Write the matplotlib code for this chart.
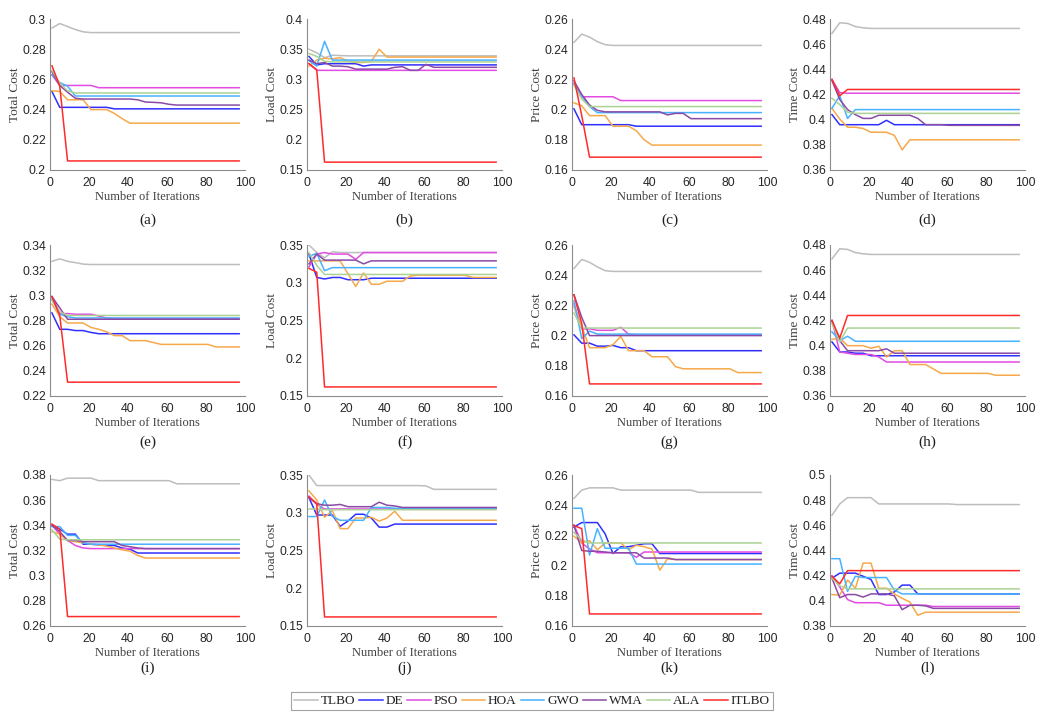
import numpy as np
import matplotlib.pyplot as plt
from matplotlib.ticker import FuncFormatter

iters = list(range(1, 98, 4))  # 1, 5, 9, ..., 97
names = ['TLBO', 'DE', 'PSO', 'HOA', 'GWO', 'WMA', 'ALA', 'ITLBO']
colors = ['#bdbdbd', '#2f2fff', '#e24ce2', '#f6a94a', '#47b2ff', '#8a4aa6', '#abd293', '#ff2b2b']

# (a) Total Cost
a_tlbo = [0.294, 0.297, 0.295, 0.293, 0.2915] + [0.291] * 20
a_de = [0.252, 0.2415, 0.2415, 0.2415, 0.2415, 0.2415, 0.2415, 0.2415] + [0.2405] * 17
a_pso = [0.263, 0.256, 0.256, 0.256, 0.256, 0.256] + [0.2545] * 19
a_hoa = [0.2525, 0.252, 0.2465, 0.2465, 0.2465, 0.240, 0.240, 0.240, 0.2375, 0.234] + [0.231] * 15
a_gwo = [0.263, 0.258, 0.2555] + [0.249] * 22
a_wma = [0.265, 0.256, 0.2515, 0.2475, 0.247, 0.247, 0.247, 0.247, 0.247, 0.247, 0.247,
         0.2465, 0.245, 0.2448, 0.2445, 0.2435] + [0.243] * 9
a_ala = [0.266, 0.2575, 0.2525] + [0.251] * 22
a_itlbo = [0.269, 0.2556] + [0.206] * 23

# (b) Load Cost
b_tlbo = [0.350, 0.344, 0.336, 0.340, 0.3395] + [0.339] * 20
b_de = [0.338, 0.324, 0.326, 0.326, 0.326, 0.326, 0.326, 0.322] + [0.324] * 17
b_pso = [0.326] + [0.315] * 24
b_hoa = [0.322, 0.332, 0.335, 0.334, 0.336, 0.330, 0.328, 0.328, 0.330, 0.350] + [0.337] * 15
b_gwo = [0.331, 0.322, 0.363] + [0.332] * 22
b_wma = [0.332, 0.326, 0.328, 0.322, 0.322, 0.321, 0.317, 0.317, 0.317, 0.317, 0.317,
         0.320, 0.321, 0.315, 0.315, 0.325] + [0.320] * 9
b_ala = [0.343, 0.338, 0.330] + [0.329] * 22
b_itlbo = [0.326, 0.316] + [0.163] * 23

# (c) Price Cost
c_tlbo = [0.2445, 0.250, 0.248, 0.245, 0.243] + [0.2425] * 20
c_de = [0.2005, 0.190, 0.190, 0.190, 0.190, 0.190, 0.190, 0.190] + [0.189] * 17
c_pso = [0.2175, 0.2085, 0.2085, 0.2085, 0.2085, 0.2085] + [0.206] * 19
c_hoa = [0.2045, 0.2025, 0.196, 0.196, 0.196, 0.189, 0.189, 0.189, 0.186, 0.180] + [0.1765] * 15
c_gwo = [0.217, 0.209, 0.202] + [0.198] * 22
c_wma = [0.219, 0.210, 0.203, 0.1995] + [0.1985] * 8 + [0.1965, 0.1975, 0.1975] + [0.194] * 10
c_ala = [0.216, 0.207] + [0.202] * 23
c_itlbo = [0.221, 0.196] + [0.1685] * 23

# (d) Time Cost
d_tlbo = [0.4685, 0.477, 0.4765, 0.474, 0.473] + [0.4725] * 20
d_de = [0.404] + [0.396] * 6 + [0.3995] + [0.396] * 17
d_pso = [0.432, 0.4215] + [0.421] * 23
d_hoa = [0.409, 0.4005, 0.394, 0.394, 0.393, 0.390, 0.390, 0.390, 0.3875, 0.376] + [0.384] * 15
d_gwo = [0.409, 0.419, 0.401] + [0.408] * 22
d_wma = [0.431, 0.416, 0.408, 0.404, 0.401, 0.401] + [0.4035] * 5 + [0.401] + [0.396] * 3 + [0.3955] * 10
d_ala = [0.417, 0.412, 0.406] + [0.405] * 22
d_itlbo = [0.432, 0.419] + [0.424] * 23

# (e) Total Cost
e_tlbo = [0.327, 0.329, 0.327, 0.326, 0.3248] + [0.3245] * 20
e_de = [0.286, 0.273, 0.273, 0.272, 0.272, 0.2705] + [0.2695] * 19
e_pso = [0.299, 0.2855, 0.2855, 0.285, 0.285, 0.285, 0.2835, 0.282] + [0.2815] * 17
e_hoa = [0.293, 0.283, 0.278, 0.278, 0.278, 0.2745, 0.273, 0.271, 0.268, 0.268, 0.264, 0.264,
         0.264, 0.2625] + [0.261] * 7 + [0.259] * 4
e_gwo = [0.297, 0.285, 0.283] + [0.282] * 22
e_wma = [0.299, 0.290] + [0.281] * 23
e_ala = [0.296, 0.287] + [0.284] * 23
e_itlbo = [0.299, 0.284] + [0.231] * 23

# (f) Load Cost
f_tlbo = [0.350, 0.340, 0.333, 0.341] + [0.340] * 21
f_de = [0.338, 0.307, 0.305, 0.307, 0.307, 0.304, 0.304, 0.304] + [0.306] * 17
f_pso = [0.321, 0.338, 0.340, 0.338, 0.338, 0.338, 0.331] + [0.340] * 18
f_hoa = [0.329, 0.329, 0.329, 0.329, 0.329, 0.312, 0.295, 0.313, 0.298, 0.298, 0.302, 0.302,
         0.302, 0.309] + [0.310] * 7 + [0.307] * 4
f_gwo = [0.335, 0.339, 0.316] + [0.320] * 22
f_wma = [0.325, 0.338, 0.330, 0.330, 0.330, 0.330, 0.330, 0.325] + [0.329] * 17
f_ala = [0.340, 0.323] + [0.311] * 23
f_itlbo = [0.319, 0.314] + [0.162] * 23

# (g) Price Cost
g_tlbo = [0.2445, 0.2505, 0.2485, 0.2455, 0.243] + [0.2425] * 20
g_de = [0.2005, 0.195, 0.195, 0.193, 0.193, 0.1935, 0.192, 0.192] + [0.190] * 17
g_pso = [0.221, 0.2045, 0.2045, 0.2035, 0.2035, 0.2035, 0.2055, 0.201] + [0.2005] * 17
g_hoa = [0.219, 0.206, 0.192, 0.192, 0.192, 0.194, 0.1995, 0.190, 0.190, 0.190, 0.186, 0.186,
         0.186, 0.1795] + [0.178] * 7 + [0.1755] * 4
g_gwo = [0.223, 0.198, 0.203] + [0.201] * 22
g_wma = [0.227, 0.212] + [0.200] * 23
g_ala = [0.215] + [0.205] * 24
g_itlbo = [0.227, 0.208] + [0.168] * 23

# (h) Time Cost
h_tlbo = [0.469, 0.477, 0.4765, 0.474, 0.473] + [0.4725] * 20
h_de = [0.403, 0.395, 0.395, 0.394, 0.394] + [0.392] * 20
h_pso = [0.420, 0.395, 0.394, 0.393, 0.393, 0.393, 0.391] + [0.387] * 18
h_hoa = [0.405, 0.406, 0.400, 0.400, 0.400, 0.398, 0.3995, 0.391, 0.396, 0.396, 0.385, 0.385,
         0.385, 0.3815] + [0.378] * 7 + [0.3765] * 4
h_gwo = [0.411, 0.404, 0.4075] + [0.4035] * 22
h_wma = [0.420, 0.404, 0.396, 0.396, 0.396, 0.396, 0.396, 0.3975] + [0.394] * 17
h_ala = [0.418, 0.403] + [0.414] * 23
h_itlbo = [0.420, 0.406] + [0.424] * 23

# (i) Total Cost
i_tlbo = [0.3765, 0.3755, 0.3775, 0.3775, 0.3775, 0.3775] + [0.3755] * 10 + [0.373] * 9
i_de = [0.340, 0.337, 0.333, 0.333, 0.325, 0.325, 0.3245, 0.324, 0.324, 0.322, 0.321] + [0.318] * 14
i_pso = [0.340, 0.333, 0.328, 0.324, 0.322] + [0.3215] * 20
i_hoa = [0.335, 0.333, 0.328, 0.327, 0.326, 0.325, 0.3245, 0.3235, 0.322, 0.3205, 0.3195,
         0.316] + [0.314] * 13
i_gwo = [0.339, 0.339, 0.332, 0.332, 0.326] + [0.325] * 20
i_wma = [0.340, 0.335, 0.328, 0.328, 0.327, 0.327, 0.327, 0.327, 0.327, 0.324, 0.323,
         0.322] + [0.3215] * 13
i_ala = [0.3365, 0.329] + [0.3285] * 23
i_itlbo = [0.341, 0.337] + [0.2675] * 23

# (j) Load Cost
j_tlbo = [0.350] + [0.336] * 14 + [0.3355] + [0.331] * 9
j_de = [0.320, 0.297, 0.297, 0.297, 0.282, 0.289, 0.298, 0.298, 0.293, 0.281, 0.281] + [0.285] * 14
j_pso = [0.322, 0.311] + [0.305] * 23
j_hoa = [0.329, 0.317, 0.294, 0.303, 0.279, 0.279, 0.293, 0.293, 0.294, 0.289, 0.293,
         0.302] + [0.290] * 13
j_gwo = [0.295, 0.295, 0.317, 0.295, 0.290, 0.290, 0.290, 0.290, 0.307, 0.307, 0.307] + [0.306] * 14
j_wma = [0.320, 0.312, 0.310, 0.310, 0.311, 0.308, 0.308, 0.308, 0.308, 0.314, 0.310,
         0.309] + [0.307] * 13
j_ala = [0.305, 0.305] + [0.304] * 23
j_itlbo = [0.321, 0.312] + [0.162] * 23

# (k) Price Cost
k_tlbo = [0.2445, 0.250] + [0.2515] * 4 + [0.250] * 10 + [0.2485] * 9
k_de = [0.2255, 0.2285, 0.2285, 0.2285, 0.221, 0.208, 0.2125, 0.2125, 0.2135, 0.2145,
        0.2145] + [0.208] * 14
k_pso = [0.227, 0.215, 0.211, 0.2085, 0.2085, 0.2085, 0.2085, 0.2085, 0.2055] + [0.209] * 16
k_hoa = [0.2195, 0.215, 0.2165, 0.2105, 0.215, 0.215, 0.215, 0.2105, 0.2135, 0.2125, 0.211,
         0.197, 0.2045] + [0.204] * 12
k_gwo = [0.238, 0.238, 0.207, 0.2245, 0.2115, 0.2115, 0.2115, 0.2115] + [0.201] * 17
k_wma = [0.2265, 0.210, 0.2095, 0.2095, 0.209, 0.2085, 0.2085, 0.2085, 0.2085] + [0.205] * 4 + [0.204] * 12
k_ala = [0.222, 0.217] + [0.215] * 23
k_itlbo = [0.2265, 0.2245] + [0.168] * 23

# (l) Time Cost
l_tlbo = [0.468, 0.477, 0.482, 0.482, 0.482, 0.482] + [0.477] * 10 + [0.4765] * 9
l_de = [0.418, 0.422, 0.422, 0.422, 0.4195, 0.417, 0.405, 0.405, 0.407, 0.4125, 0.4125] + [0.4055] * 14
l_pso = [0.420, 0.411, 0.401, 0.3985, 0.3985, 0.3985, 0.3985] + [0.3965] * 6 + [0.3955] * 12
l_hoa = [0.405, 0.4045, 0.4165, 0.410, 0.430, 0.430, 0.410, 0.410, 0.4055, 0.402, 0.399,
         0.3885] + [0.391] * 13
l_gwo = [0.4335, 0.4335, 0.4075, 0.4195, 0.4185, 0.4185, 0.4185, 0.4185, 0.4085] + [0.4055] * 16
l_wma = [0.418, 0.4025, 0.405, 0.405, 0.403, 0.4055, 0.4055, 0.4055, 0.404, 0.393, 0.3965,
         0.3965, 0.396] + [0.394] * 12
l_ala = [0.418, 0.412] + [0.4095] * 23
l_itlbo = [0.4195, 0.4135] + [0.424] * 23

panels = [
    ('(a)', 'Total Cost', [a_tlbo, a_de, a_pso, a_hoa, a_gwo, a_wma, a_ala, a_itlbo], (0.2, 0.3), 0.02),
    ('(b)', 'Load Cost', [b_tlbo, b_de, b_pso, b_hoa, b_gwo, b_wma, b_ala, b_itlbo], (0.15, 0.4), 0.05),
    ('(c)', 'Price Cost', [c_tlbo, c_de, c_pso, c_hoa, c_gwo, c_wma, c_ala, c_itlbo], (0.16, 0.26), 0.02),
    ('(d)', 'Time Cost', [d_tlbo, d_de, d_pso, d_hoa, d_gwo, d_wma, d_ala, d_itlbo], (0.36, 0.48), 0.02),
    ('(e)', 'Total Cost', [e_tlbo, e_de, e_pso, e_hoa, e_gwo, e_wma, e_ala, e_itlbo], (0.22, 0.34), 0.02),
    ('(f)', 'Load Cost', [f_tlbo, f_de, f_pso, f_hoa, f_gwo, f_wma, f_ala, f_itlbo], (0.15, 0.35), 0.05),
    ('(g)', 'Price Cost', [g_tlbo, g_de, g_pso, g_hoa, g_gwo, g_wma, g_ala, g_itlbo], (0.16, 0.26), 0.02),
    ('(h)', 'Time Cost', [h_tlbo, h_de, h_pso, h_hoa, h_gwo, h_wma, h_ala, h_itlbo], (0.36, 0.48), 0.02),
    ('(i)', 'Total Cost', [i_tlbo, i_de, i_pso, i_hoa, i_gwo, i_wma, i_ala, i_itlbo], (0.26, 0.38), 0.02),
    ('(j)', 'Load Cost', [j_tlbo, j_de, j_pso, j_hoa, j_gwo, j_wma, j_ala, j_itlbo], (0.15, 0.35), 0.05),
    ('(k)', 'Price Cost', [k_tlbo, k_de, k_pso, k_hoa, k_gwo, k_wma, k_ala, k_itlbo], (0.16, 0.26), 0.02),
    ('(l)', 'Time Cost', [l_tlbo, l_de, l_pso, l_hoa, l_gwo, l_wma, l_ala, l_itlbo], (0.38, 0.5), 0.02),
]

W, H = 1059, 719
col_left = [50, 307, 572, 830]
row_bottom = [170, 396, 626]
ax_w, ax_h = 195, 151
letter_y = [220, 442, 668]

serif = 'Liberation Serif'
sans = 'Liberation Sans'
fmt = FuncFormatter(lambda v, p: f'{v:g}')

fig = plt.figure(figsize=(W / 100, H / 100), dpi=100)
lines = []
for k, (letter, ylab, series, ylim, step) in enumerate(panels):
    r, c = divmod(k, 4)
    ax = fig.add_axes([col_left[c] / W, 1 - row_bottom[r] / H, ax_w / W, ax_h / H])
    lines = []
    for y, name, col in zip(series, names, colors):
        ln, = ax.plot(iters[:len(y)], y, color=col, lw=1.1, label=name)
        lines.append(ln)
    ax.set_xlim(0, 100)
    ax.set_ylim(*ylim)
    ax.set_xticks(np.arange(0, 101, 20))
    ax.set_yticks(np.arange(ylim[0], ylim[1] + 1e-9, step))
    ax.yaxis.set_major_formatter(fmt)
    for s in ['top', 'right']:
        ax.spines[s].set_visible(False)
    for s in ['left', 'bottom']:
        ax.spines[s].set_color('#8c8c8c')
        ax.spines[s].set_linewidth(0.8)
    ax.tick_params(length=0, labelsize=8.8, labelcolor='#262626')
    ax.tick_params(axis='x', pad=5)
    ax.tick_params(axis='y', pad=3)
    for t in ax.get_xticklabels() + ax.get_yticklabels():
        t.set_fontfamily(sans)
    ax.set_xlabel('Number of Iterations', fontfamily=serif, fontsize=9, color='#404040', labelpad=1.5)
    ax.set_ylabel(ylab, fontfamily=serif, fontsize=9.5, color='#404040', labelpad=1)
    fig.text((col_left[c] + ax_w / 2) / W, 1 - letter_y[r] / H, letter, ha='center', va='center',
             fontfamily=serif, fontsize=11, color='#202020')

leg = fig.legend(lines, names, loc='center', bbox_to_anchor=(532 / W, 1 - 701 / H), ncol=8,
                 prop={'family': serif, 'size': 9.5}, frameon=True, fancybox=False,
                 handlelength=1.8, handletextpad=0.2, columnspacing=0.3, borderpad=0.25,
                 borderaxespad=0)
leg.get_frame().set_edgecolor('#8c8c8c')
leg.get_frame().set_linewidth(0.8)
for t in leg.get_texts():
    t.set_color('#202020')

fig.savefig('out.png', dpi=100)
